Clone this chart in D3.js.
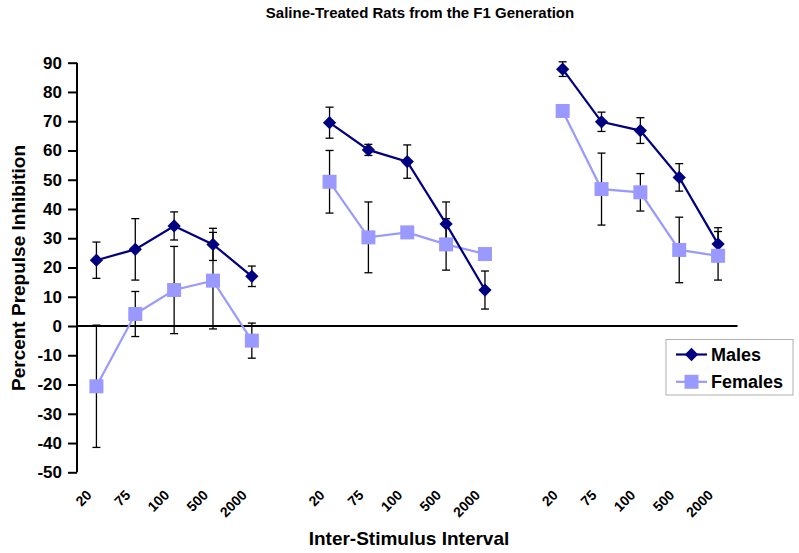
<!DOCTYPE html>
<html>
<head>
<meta charset="utf-8">
<script src="https://cdn.jsdelivr.net/npm/d3@7"></script>
<style>
  html, body { margin: 0; padding: 0; background: #fff; }
  svg { display: block; font-family: Arial, "Liberation Sans", sans-serif; }
</style>
</head>
<body>
<svg id="chart" width="799" height="553"></svg>
<script>
// ---- data ----
const chartTitle = "Saline-Treated Rats from the F1 Generation";
const xTitle = "Inter-Stimulus Interval";
const yTitle = "Percent Prepulse Inhibition";
const isiLabels = ["20", "75", "100", "500", "2000"];
const groupCount = 3;
const seriesNames = ["Males", "Females"];
const malesMean = [22.5, 26.2, 34.2, 27.9, 17.0, 69.5, 60.2, 56.2, 34.9, 12.3, 87.8, 69.8, 66.8, 50.8, 28.0];
const malesErr  = [6.2, 10.5, 4.8, 5.5, 3.5, 5.3, 1.9, 5.7, 7.5, 6.5, 2.5, 3.3, 4.4, 4.7, 5.6];
const femalesMean = [-20.6, 4.1, 12.3, 15.5, -5.0, 49.3, 30.3, 32.0, 27.9, 24.6, 73.5, 46.8, 45.7, 26.0, 24.0];
const femalesErr  = [20.9, 7.7, 14.9, 16.5, 6.0, 10.7, 12.1, 1.5, 8.8, 1.0, 1.5, 12.3, 6.4, 11.2, 8.3];
const yTicks = [-50, -40, -30, -20, -10, 0, 10, 20, 30, 40, 50, 60, 70, 80, 90];

// ---- category slots: groups separated by an empty slot ----
const slots = [];
for (let g = 0; g < groupCount; g++) {
  isiLabels.forEach(l => slots.push({key: "g" + g + "-" + l, label: l, group: g}));
  if (g < groupCount - 1) slots.push({key: "gap" + g, label: "", group: -1});
}
const dataSlots = slots.filter(s => s.group >= 0);

const colors = {Males: "#000080", Females: "#9999FF"};
const series = [
  {name: "Males", mean: malesMean, err: malesErr},
  {name: "Females", mean: femalesMean, err: femalesErr}
];

const svg = d3.select("#chart");
const x = d3.scaleBand().domain(slots.map(s => s.key)).range([77, 737.5]).padding(0);
const y = d3.scaleLinear().domain([-50, 90]).range([472.3, 62.7]);
const cx = k => x(k) + x.bandwidth() / 2;

// title
svg.append("text").attr("x", 420).attr("y", 18).attr("text-anchor", "middle")
  .attr("font-size", 15).attr("font-weight", "bold").text(chartTitle);

// y axis
const yAxis = svg.append("g").attr("transform", "translate(77,0)")
  .call(d3.axisLeft(y).tickValues(yTicks).tickSize(9).tickPadding(6).tickFormat(d => String(d)));
yAxis.select(".domain").attr("stroke", "#000").attr("stroke-width", 2).attr("d", "M0," + y(90) + "V" + y(-50));
yAxis.selectAll(".tick line").attr("stroke", "#000").attr("stroke-width", 2);
yAxis.selectAll(".tick text").attr("font-size", 17).attr("font-weight", "bold")
  .attr("font-family", "Arial, 'Liberation Sans', sans-serif").attr("fill", "#000");

// zero line (category axis)
svg.append("line").attr("x1", 77).attr("x2", 737.5).attr("y1", y(0)).attr("y2", y(0))
  .attr("stroke", "#000").attr("stroke-width", 2);

// x tick labels
svg.append("g").selectAll("text").data(dataSlots).join("text")
  .attr("transform", d => "translate(" + (cx(d.key) - 4) + ",496) rotate(-45)")
  .attr("text-anchor", "end").attr("font-size", 14).attr("font-weight", "bold")
  .text(d => d.label);

// axis titles
svg.append("text").attr("x", 409).attr("y", 545).attr("text-anchor", "middle")
  .attr("font-size", 19).attr("font-weight", "bold").text(xTitle);
svg.append("text").attr("transform", "translate(25,268) rotate(-90)").attr("text-anchor", "middle")
  .attr("font-size", 19).attr("font-weight", "bold").text(yTitle);

// build point data
series.forEach(s => {
  s.points = dataSlots.map((sl, i) => ({key: sl.key, group: sl.group, v: s.mean[i], e: s.err[i]}));
});

const line = d3.line().x(d => cx(d.key)).y(d => y(d.v));
const plot = svg.append("g");

// lines (females underneath males)
[series[1], series[0]].forEach(s => {
  for (let g = 0; g < groupCount; g++) {
    plot.append("path").datum(s.points.filter(p => p.group === g))
      .attr("d", line).attr("fill", "none").attr("stroke", colors[s.name]).attr("stroke-width", 2.2);
  }
});

// error bars
series.forEach(s => {
  const eb = plot.append("g").attr("stroke", "#000").attr("stroke-width", 1.3);
  s.points.forEach(p => {
    const px = cx(p.key);
    eb.append("line").attr("x1", px).attr("x2", px).attr("y1", y(p.v + p.e)).attr("y2", y(p.v - p.e));
    eb.append("line").attr("x1", px - 4).attr("x2", px + 4).attr("y1", y(p.v + p.e)).attr("y2", y(p.v + p.e));
    eb.append("line").attr("x1", px - 4).attr("x2", px + 4).attr("y1", y(p.v - p.e)).attr("y2", y(p.v - p.e));
  });
});

// markers
const diamond = d3.symbol().type(d3.symbolSquare).size(88);
function drawMarker(g, name, px, py) {
  if (name === "Males") {
    g.append("path").attr("d", diamond()).attr("fill", colors.Males)
      .attr("transform", "translate(" + px + "," + py + ") rotate(45)");
  } else {
    g.append("rect").attr("x", px - 7).attr("y", py - 7).attr("width", 14).attr("height", 14)
      .attr("fill", colors.Females);
  }
}
series.forEach(s => {
  const mg = plot.append("g");
  s.points.forEach(p => drawMarker(mg, s.name, cx(p.key), y(p.v)));
});

// legend
const lg = svg.append("g");
lg.append("rect").attr("x", 666).attr("y", 339.5).attr("width", 127).attr("height", 55.5)
  .attr("fill", "#fff").attr("stroke", "#b0b0b0").attr("stroke-width", 1);
seriesNames.forEach((n, i) => {
  const ly = 354.5 + i * 27.3;
  lg.append("line").attr("x1", 676).attr("x2", 707).attr("y1", ly).attr("y2", ly)
    .attr("stroke", colors[n]).attr("stroke-width", 2.2);
  drawMarker(lg, n, 691.5, ly);
  lg.append("text").attr("x", 711).attr("y", ly + 6.5).attr("font-size", 18).attr("font-weight", "bold").text(n);
});
</script>
</body>
</html>
